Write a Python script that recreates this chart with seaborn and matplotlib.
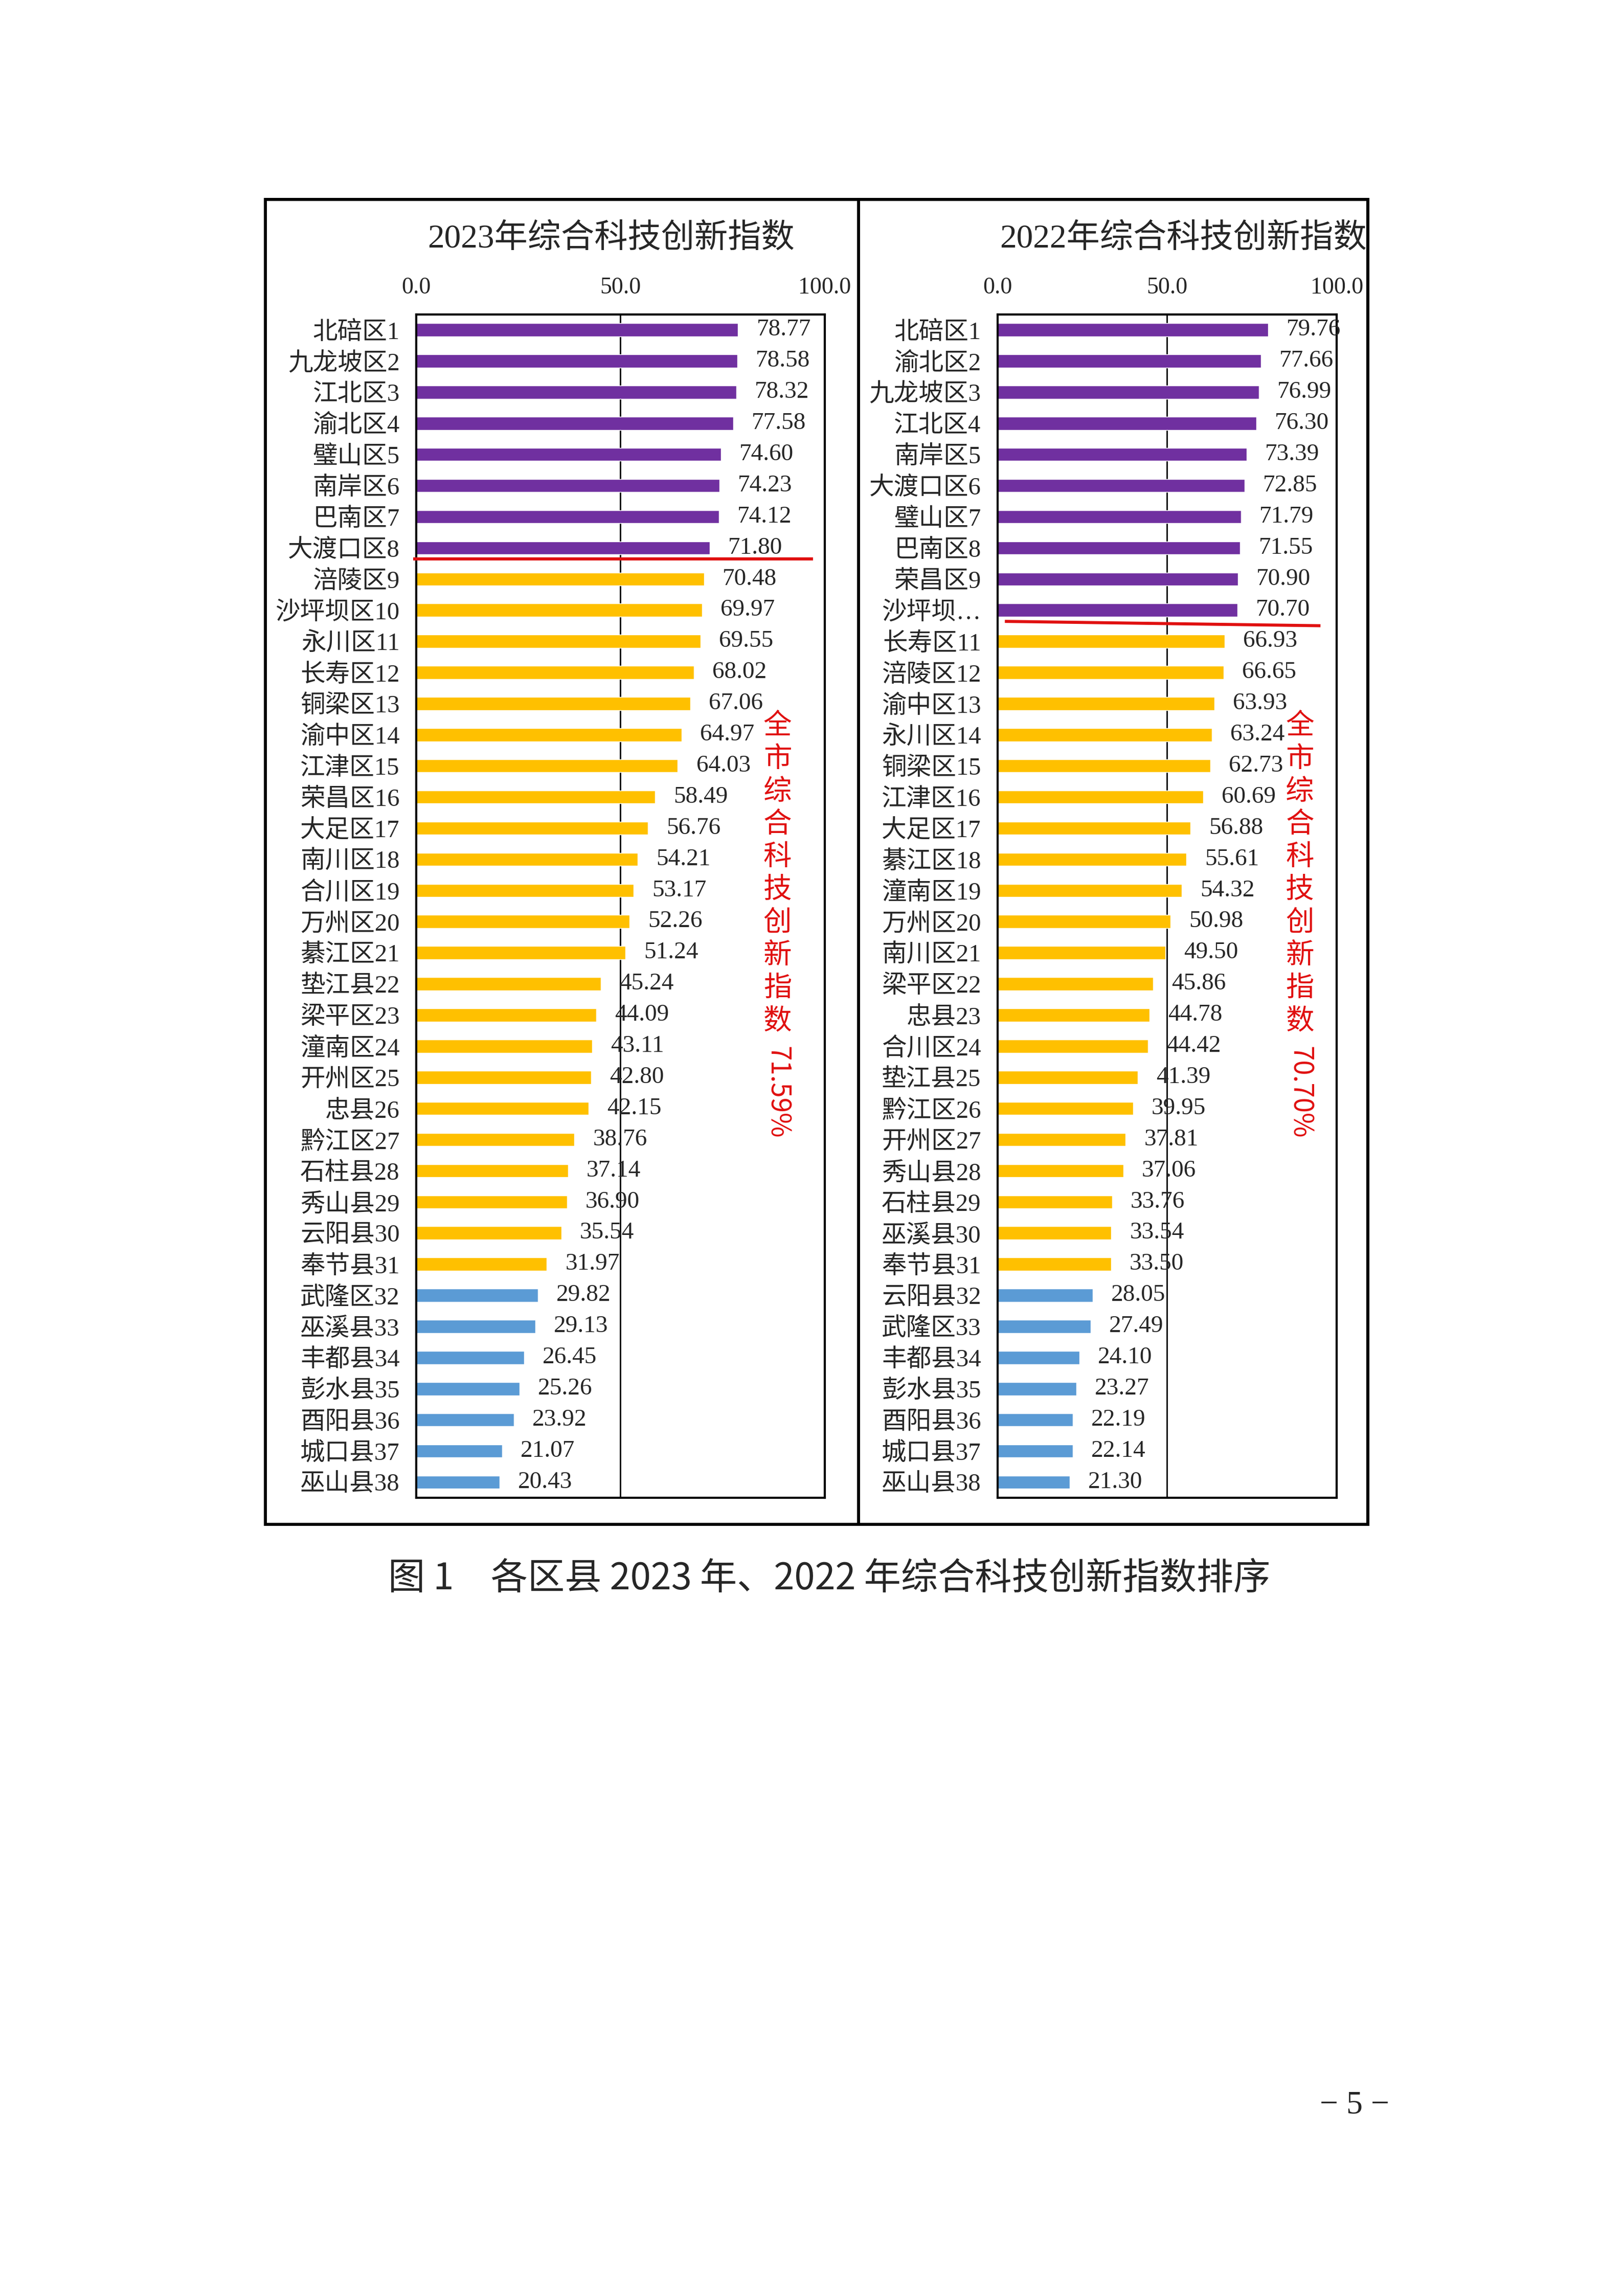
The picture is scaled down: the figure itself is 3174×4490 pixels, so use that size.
import matplotlib
matplotlib.use("Agg")
import matplotlib.pyplot as plt
from matplotlib.patches import Rectangle
import seaborn as sns
import pandas as pd

# ---- data -------------------------------------------------------------
names_2023 = ["北碚区1", "九龙坡区2", "江北区3", "渝北区4", "璧山区5", "南岸区6", "巴南区7",
              "大渡口区8", "涪陵区9", "沙坪坝区10", "永川区11", "长寿区12", "铜梁区13",
              "渝中区14", "江津区15", "荣昌区16", "大足区17", "南川区18", "合川区19",
              "万州区20", "綦江区21", "垫江县22", "梁平区23", "潼南区24", "开州区25",
              "忠县26", "黔江区27", "石柱县28", "秀山县29", "云阳县30", "奉节县31",
              "武隆区32", "巫溪县33", "丰都县34", "彭水县35", "酉阳县36", "城口县37", "巫山县38"]
values_2023 = [78.77, 78.58, 78.32, 77.58, 74.60, 74.23, 74.12, 71.80, 70.48, 69.97,
               69.55, 68.02, 67.06, 64.97, 64.03, 58.49, 56.76, 54.21, 53.17, 52.26,
               51.24, 45.24, 44.09, 43.11, 42.80, 42.15, 38.76, 37.14, 36.90, 35.54,
               31.97, 29.82, 29.13, 26.45, 25.26, 23.92, 21.07, 20.43]
groups_2023 = ["top"] * 8 + ["mid"] * 23 + ["low"] * 7
avg_2023 = "71.59%"

names_2022 = ["北碚区1", "渝北区2", "九龙坡区3", "江北区4", "南岸区5", "大渡口区6", "璧山区7",
              "巴南区8", "荣昌区9", "沙坪坝…", "长寿区11", "涪陵区12", "渝中区13",
              "永川区14", "铜梁区15", "江津区16", "大足区17", "綦江区18", "潼南区19",
              "万州区20", "南川区21", "梁平区22", "忠县23", "合川区24", "垫江县25",
              "黔江区26", "开州区27", "秀山县28", "石柱县29", "巫溪县30", "奉节县31",
              "云阳县32", "武隆区33", "丰都县34", "彭水县35", "酉阳县36", "城口县37", "巫山县38"]
values_2022 = [79.76, 77.66, 76.99, 76.30, 73.39, 72.85, 71.79, 71.55, 70.90, 70.70,
               66.93, 66.65, 63.93, 63.24, 62.73, 60.69, 56.88, 55.61, 54.32, 50.98,
               49.50, 45.86, 44.78, 44.42, 41.39, 39.95, 37.81, 37.06, 33.76, 33.54,
               33.50, 28.05, 27.49, 24.10, 23.27, 22.19, 22.14, 21.30]
groups_2022 = ["top"] * 10 + ["mid"] * 21 + ["low"] * 7
avg_2022 = "70.70%"

x_ticks = [0, 50, 100]
x_ticklabels = ["0.0", "50.0", "100.0"]

PALETTE = {"top": "#7030A0", "mid": "#FFC000", "low": "#5B9BD5"}
RED = "#E01010"

sns.set_style("white")
plt.rcParams["font.family"] = ["Liberation Serif", "Noto Sans CJK SC", "DejaVu Sans"]

# layout measured on a 1100 x 1556 grid
W, H = 1100.0, 1556.0


def fx(x):
    return x / W


def fy(y):
    return 1 - y / H


fig = plt.figure(figsize=(31.74, 44.90), dpi=100)


def draw_panel(ax, names, values, groups, title, title_x, line_span, line_dy, text_x, avg):
    df = pd.DataFrame({"name": names, "value": values, "group": groups})
    sns.barplot(data=df, x="value", y="name", hue="group", palette=PALETTE,
                orient="h", dodge=False, width=0.42, saturation=1,
                legend=False, ax=ax, zorder=2)
    ax.set_xlim(0, 100)
    ax.set_ylim(len(names) - 0.5, -0.5)
    ax.axvline(50, color="black", lw=2.0, zorder=1)
    ax.set_xlabel("")
    ax.set_ylabel("")
    ax.xaxis.tick_top()
    ax.set_xticks(x_ticks)
    ax.set_xticklabels(x_ticklabels)
    ax.tick_params(axis="x", length=0, pad=22, labelsize=33)
    ax.tick_params(axis="y", length=0, pad=23, labelsize=35)
    for sp in ax.spines.values():
        sp.set_visible(True)
        sp.set_color("black")
        sp.set_linewidth(3.0)

    for i, v in enumerate(values):
        ax.annotate(f"{v:.2f}", xy=(v, i), xytext=(26, 0), textcoords="offset points",
                    ha="left", va="center", fontsize=34, zorder=3)

    # red separator under the top group
    n_top = groups.count("top")
    b = n_top - 0.5
    ax.plot(line_span, [b + line_dy[0], b + line_dy[1]], color=RED, lw=4.3,
            clip_on=False, zorder=4, solid_capstyle="butt")

    fig.text(fx(title_x), fy(162), title, ha="center", va="center", fontsize=47)

    # vertical red note
    chars = "全市综合科技创新指数"
    for k, ch in enumerate(chars):
        fig.text(fx(text_x), fy(492 + k * 22.2), ch, ha="center", va="center",
                 color=RED, fontsize=40, family=["Noto Sans CJK SC"])
    fig.text(fx(text_x), fy(709), avg, ha="center", va="top", rotation=270,
             color=RED, fontsize=38, family=["Noto Sans CJK SC"])


ax1 = fig.add_axes([fx(282), fy(1015), (559 - 282) / W, (1015 - 213) / H])
draw_panel(ax1, names_2023, values_2023, groups_2023, "2023年综合科技创新指数", 414,
           [-0.7, 97.1], [-0.15, -0.15], 527, avg_2023)

ax2 = fig.add_axes([fx(676), fy(1015), (906 - 676) / W, (1015 - 213) / H])
draw_panel(ax2, names_2022, values_2022, groups_2022, "2022年综合科技创新指数", 802,
           [2.2, 95.2], [-0.14, 0.0], 881, avg_2022)

# outer frames
for x0, x1 in [(180, 582), (582, 927)]:
    fig.add_artist(Rectangle((fx(x0), fy(1033)), (x1 - x0) / W, (1033 - 135) / H,
                             transform=fig.transFigure, fill=False, lw=4.3, ec="black"))

fig.text(fx(562), fy(1070), "图 1　各区县 2023 年、2022 年综合科技创新指数排序",
         ha="center", va="center", fontsize=52, family=["Noto Sans CJK SC"])
fig.text(fx(918), fy(1427), "− 5 −", ha="center", va="center", fontsize=46)

fig.savefig("out.png", dpi=100, facecolor="white")
